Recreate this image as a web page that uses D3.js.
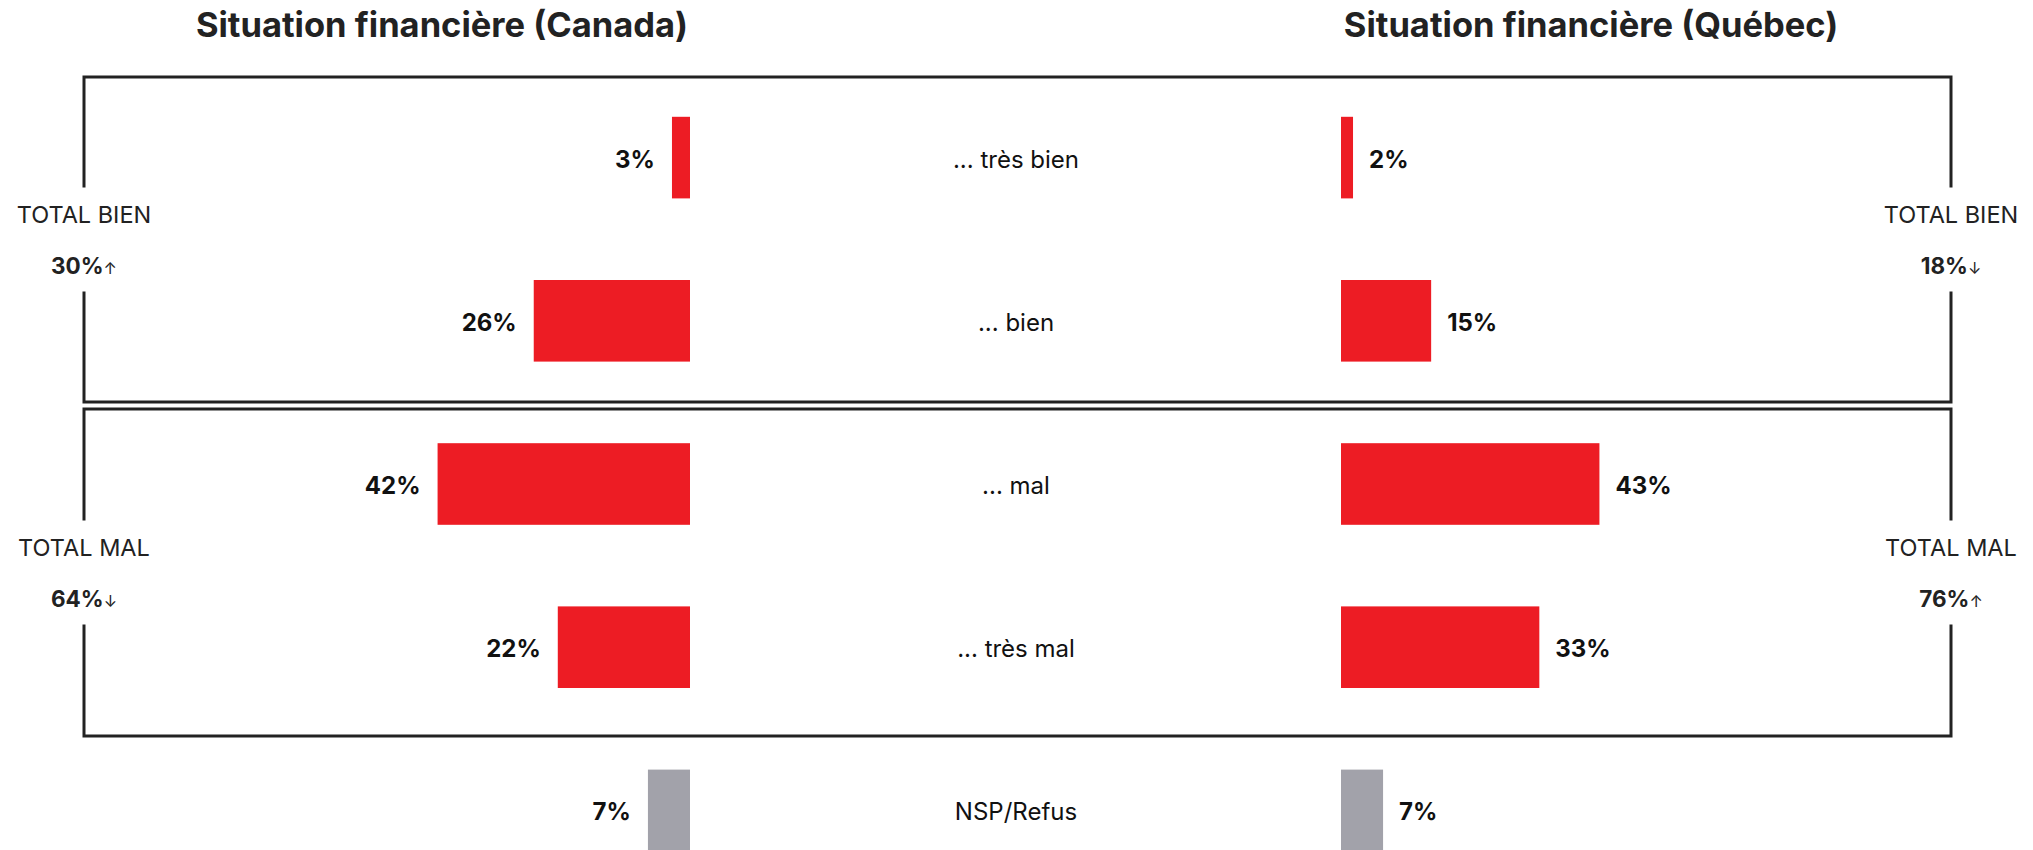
<!DOCTYPE html>
<html>
<head>
<meta charset="utf-8">
<script src="https://cdn.jsdelivr.net/npm/d3@7"></script>
<style>
  html, body { margin: 0; padding: 0; background: #fff; }
  svg { display: block; font-family: Inter, "Noto Sans", sans-serif; }
</style>
</head>
<body>
<svg id="chart" width="2033" height="850"></svg>
<script>
const categories = ["... très bien", "... bien", "... mal", "... très mal", "NSP/Refus"];
const canadaValues = [3, 26, 42, 22, 7];
const quebecValues = [2, 15, 43, 33, 7];
const titles = ["Situation financière (Canada)", "Situation financière (Québec)"];
const groupLabels = ["TOTAL BIEN", "TOTAL MAL"];
const canadaTotals = ["30%", "64%"];
const canadaArrows = ["↑", "↓"];
const quebecTotals = ["18%", "76%"];
const quebecArrows = ["↓", "↑"];

const RED = "#ED1C24", GREY = "#A2A2AA", INK = "#222";
const svg = d3.select("#chart");

const y = d3.scaleBand().domain(categories).range([76, 892]).paddingInner(0.5).paddingOuter(0.25);
const xLeft = d3.scaleLinear().domain([0, 100]).range([690, 690 - 601]);
const xRight = d3.scaleLinear().domain([0, 100]).range([1341, 1341 + 601]);

// titles
svg.selectAll("text.title").data(titles).join("text")
  .attr("class", "title")
  .attr("x", (d, i) => i === 0 ? 442 : 1591)
  .attr("y", 37)
  .attr("text-anchor", "middle")
  .attr("font-size", 34.5).attr("font-weight", 700).attr("fill", INK)
  .text(d => d);

// boxes
const boxL = 84, boxR = 1951;
const boxes = [{top: 77, bottom: 402}, {top: 409, bottom: 736}];
const gapHalf = 52;
boxes.forEach((b, i) => {
  const cy = (b.top + b.bottom) / 2;
  const g = svg.append("g").attr("fill", "none").attr("stroke", INK).attr("stroke-width", 3);
  g.append("path").attr("d",
    `M${boxL},${cy - gapHalf} V${b.top} H${boxR} V${cy - gapHalf}` +
    ` M${boxL},${cy + gapHalf} V${b.bottom} H${boxR} V${cy + gapHalf}`);
  [[boxL, canadaTotals[i], canadaArrows[i]], [boxR, quebecTotals[i], quebecArrows[i]]].forEach(([x, tot, arr]) => {
    svg.append("text").attr("x", x).attr("y", cy - 17)
      .attr("text-anchor", "middle").attr("font-size", 23.5).attr("fill", INK)
      .text(groupLabels[i]);
    const t = svg.append("text").attr("x", x).attr("y", cy + 34)
      .attr("text-anchor", "middle").attr("font-size", 22.5).attr("font-weight", 700).attr("fill", INK);
    t.append("tspan").text(tot);
    t.append("tspan").attr("font-size", 16).attr("font-weight", 400).text(arr);
  });
});

// bars
const color = (d, i) => i === categories.length - 1 ? GREY : RED;
svg.selectAll("rect.left").data(canadaValues).join("rect")
  .attr("class", "left")
  .attr("x", d => xLeft(d)).attr("width", d => xLeft(0) - xLeft(d))
  .attr("y", (d, i) => y(categories[i])).attr("height", y.bandwidth())
  .attr("fill", color);
svg.selectAll("rect.right").data(quebecValues).join("rect")
  .attr("class", "right")
  .attr("x", xRight(0)).attr("width", d => xRight(d) - xRight(0))
  .attr("y", (d, i) => y(categories[i])).attr("height", y.bandwidth())
  .attr("fill", color);

// value labels
svg.selectAll("text.lv").data(canadaValues).join("text")
  .attr("class", "lv")
  .attr("x", d => xLeft(d) - 17)
  .attr("y", (d, i) => y(categories[i]) + y.bandwidth() / 2)
  .attr("dy", "0.42em").attr("text-anchor", "end")
  .attr("font-size", 24).attr("font-weight", 700).attr("fill", "#111")
  .text(d => d + "%");
svg.selectAll("text.rv").data(quebecValues).join("text")
  .attr("class", "rv")
  .attr("x", d => xRight(d) + 16)
  .attr("y", (d, i) => y(categories[i]) + y.bandwidth() / 2)
  .attr("dy", "0.42em").attr("text-anchor", "start")
  .attr("font-size", 24).attr("font-weight", 700).attr("fill", "#111")
  .text(d => d + "%");

// category labels
svg.selectAll("text.cat").data(categories).join("text")
  .attr("class", "cat")
  .attr("x", 1016)
  .attr("y", d => y(d) + y.bandwidth() / 2)
  .attr("dy", "0.42em").attr("text-anchor", "middle")
  .attr("font-size", 24).attr("fill", "#111")
  .text(d => d);
</script>
</body>
</html>
